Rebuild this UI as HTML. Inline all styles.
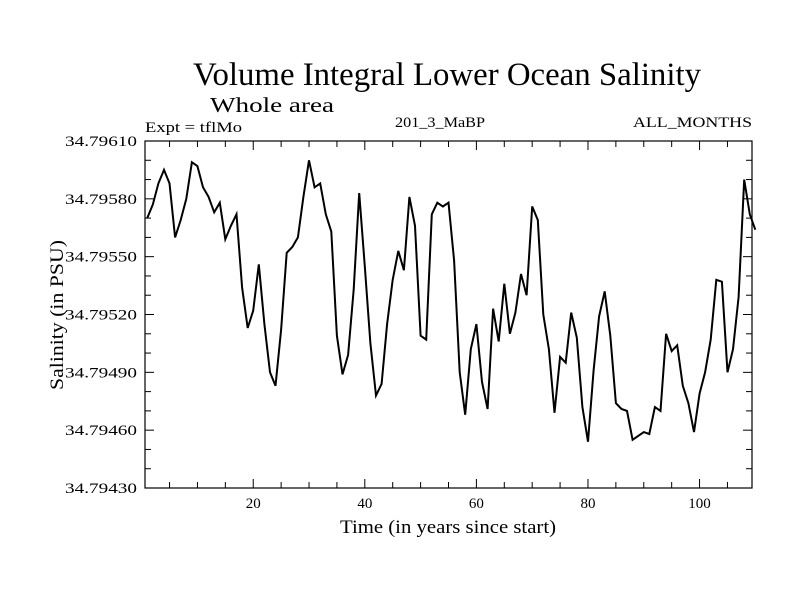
<!DOCTYPE html>
<html><head><meta charset="utf-8"><style>
html,body{margin:0;padding:0;background:#fff;}
svg{display:block;font-family:"Liberation Serif",serif;}
</style></head><body>
<svg id="chart" width="800" height="600" viewBox="0 0 800 600">
<rect width="800" height="600" fill="#fff"/>
<text x="447" y="85" font-size="33" text-anchor="middle" textLength="508" lengthAdjust="spacingAndGlyphs">Volume Integral Lower Ocean Salinity</text>
<text x="210" y="112" font-size="21" textLength="124" lengthAdjust="spacingAndGlyphs">Whole area</text>
<text x="145" y="132" font-size="15" textLength="97" lengthAdjust="spacingAndGlyphs">Expt = tflMo</text>
<text x="440" y="127" font-size="15" text-anchor="middle" textLength="90" lengthAdjust="spacingAndGlyphs">201_3_MaBP</text>
<text x="752" y="127" font-size="15" text-anchor="end" textLength="119" lengthAdjust="spacingAndGlyphs">ALL_MONTHS</text>
<text x="448" y="533" font-size="19" text-anchor="middle" textLength="216" lengthAdjust="spacingAndGlyphs">Time (in years since start)</text>
<text transform="translate(63,315) rotate(-90)" font-size="19" text-anchor="middle" textLength="150" lengthAdjust="spacingAndGlyphs">Salinity (in PSU)</text>
<g id="axes"></g>
<g id="series"></g>
<rect x="145" y="141" width="607" height="347" fill="none" stroke="#000" stroke-width="1.2"/>
</svg>
<script>
// values in units of 1e-5 above 34.79
const salinity = [570,577,588,595,588,560,569,580,599,597,586,581,573,578,559,566,572,534,513,522,546,515,490,483,512,552,555,560,581,600,586,588,572,563,509,489,499,533,583,545,505,478,484,515,538,553,543,581,566,509,507,572,578,576,
578,548,490,468,502,515,485,471,523,506,536,510,521,541,530,576,569,520,502,469,498,495,521,508,472,454,491,519,532,509,474,471,470,455,457,459,458,472,470,510,501,504,483,474,459,479,490,507,538,537,490,502,529,590,572,564];
const yTicks = [34.79430,34.79460,34.79490,34.79520,34.79550,34.79580,34.79610];
const yTickLabels = ["34.79430","34.79460","34.79490","34.79520","34.79550","34.79580","34.79610"];
const xTicks = [20,40,60,80,100];
const xTickLabels = ["20","40","60","80","100"];

const L=145,R=752,T=141,B=488;
const n=salinity.length;
const xMin=0.6, xMax=n-0.6;
const yMin=34.79430, yMax=34.79610;
const xs=v=>L+(v-xMin)/(xMax-xMin)*(R-L);
const ys=v=>B-(v-yMin)/(yMax-yMin)*(B-T);
const NS="http://www.w3.org/2000/svg";
const axes=document.getElementById('axes');
function mk(tag,attrs,parent){const e=document.createElementNS(NS,tag);for(const k in attrs)e.setAttribute(k,attrs[k]);parent.appendChild(e);return e;}

for(let v=5;v<xMax;v+=5){
  const x=xs(v), len=(v%20===0)?9:6;
  const t1=mk('line',{x1:x,x2:x,y1:B,y2:B-len,stroke:'#000','stroke-width':1},axes);
  
  
  const t2=mk('line',{x1:x,x2:x,y1:T,y2:T+len,stroke:'#000','stroke-width':1},axes);
  
  
}
xTicks.forEach((v,i)=>{
  const t=mk('text',{x:xs(v),y:B+20,'font-size':15,'text-anchor':'middle'},axes);
  t.textContent=xTickLabels[i];
  
  
});
for(let k=0;k<=18;k++){
  const v=yMin+k*0.0001;
  const y=ys(v), len=(k%3===0)?9:6;
  const a=mk('line',{x1:L,x2:L+len,y1:y,y2:y,stroke:'#000','stroke-width':1},axes);
  
  
  const b=mk('line',{x1:R,x2:R-len,y1:y,y2:y,stroke:'#000','stroke-width':1},axes);
  
  
}
yTicks.forEach((v,i)=>{
  const t=mk('text',{x:137,y:ys(v)+5,'font-size':15,'text-anchor':'end',textLength:72,lengthAdjust:'spacingAndGlyphs'},axes);
  t.textContent=yTickLabels[i];
  
  
});
const pts=salinity.map((v,i)=>xs(i+1).toFixed(1)+','+ys(34.79+v*1e-5).toFixed(1)).join(' ');
const line=mk('polyline',{points:pts,fill:'none',stroke:'#000','stroke-width':2,'stroke-linejoin':'miter'},document.getElementById('series'));


</script>
</body></html>
